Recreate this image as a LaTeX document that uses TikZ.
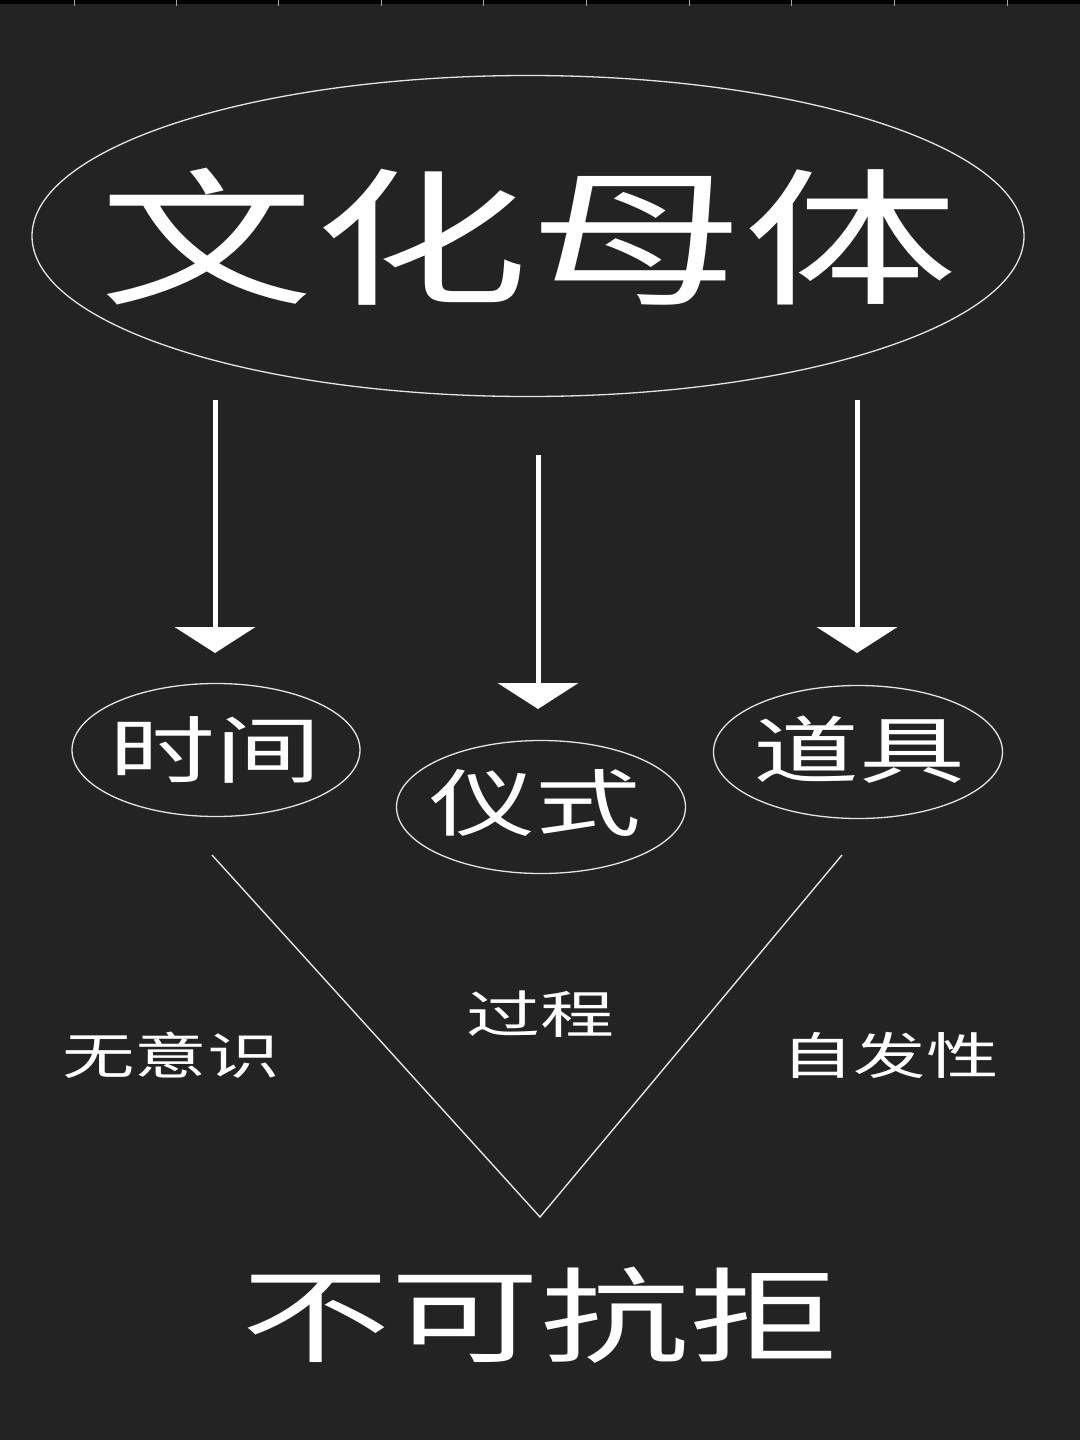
\documentclass[tikz,border=0pt]{standalone}
\usepackage{fontspec}
\newfontfamily\cjk[FakeStretch=1.45]{Noto Sans CJK SC}
\usetikzlibrary{arrows.meta,shapes.geometric}
\definecolor{bg}{HTML}{232323}
\definecolor{ln}{HTML}{E4E4E4}
\begin{document}
\begin{tikzpicture}[x=1pt,y=-1pt,
  oval/.style={draw=ln, line width=1.3pt, ellipse, inner sep=0pt},
  bigarrow/.style={draw=white, line width=5pt, -{Triangle[width=80pt,length=26pt]}, white},
  vline/.style={draw=ln, line width=1.4pt},
  lbl/.style={text=white, inner sep=0pt},
  tick/.style={draw=gray!70, line width=1pt}]
\fill[bg] (0,0) rectangle (1080,1440);
\useasboundingbox (0,0) rectangle (1080,1440);
\fill[black] (0,0) rectangle (1080,4);
\foreach \t in {74,176,278,381,483,586,689,791,894,1007}
  \draw[tick] (\t,0) -- (\t,6);

\node[oval, minimum width=992pt, minimum height=321pt] (mother) at (528,236) {};
\node[lbl] (mothertxt) at (529,237) {\cjk\fontsize{148}{150}\selectfont 文化母体};

\node[oval, minimum width=288pt, minimum height=133pt] (time) at (216,750) {};
\node[lbl] (timetxt) at (215,750) {\cjk\fontsize{73}{75}\selectfont 时间};
\node[oval, minimum width=289pt, minimum height=133pt] (rite) at (541,807) {};
\node[lbl] (ritetxt) at (535,803) {\cjk\fontsize{73}{75}\selectfont 仪式};
\node[oval, minimum width=289pt, minimum height=133pt] (prop) at (858,752) {};
\node[lbl] (proptxt) at (859,750) {\cjk\fontsize{73}{75}\selectfont 道具};

\coordinate (a1s) at (215,400);
\coordinate (a1e) at (215,653);
\coordinate (a2s) at (538,455);
\coordinate (a2e) at (538,709);
\coordinate (a3s) at (857,400);
\coordinate (a3e) at (857,653);
\draw[bigarrow] (a1s) -- (a1e);
\draw[bigarrow] (a2s) -- (a2e);
\draw[bigarrow] (a3s) -- (a3e);

\coordinate (vl) at (212,855);
\coordinate (vb) at (540,1217);
\coordinate (vr) at (842,855);
\draw[vline] (vl) -- (vb) -- (vr);

\node[lbl] (wuyishi) at (171,1055) {\cjk\fontsize{50}{52}\selectfont 无意识};
\node[lbl] (guocheng) at (540,1014) {\cjk\fontsize{51}{52}\selectfont 过程};
\node[lbl] (zifaxing) at (890,1055) {\cjk\fontsize{50}{52}\selectfont 自发性};
\node[lbl] (bukekangju) at (540,1315) {\cjk\fontsize{103}{105}\selectfont 不可抗拒};
\end{tikzpicture}
\end{document}
